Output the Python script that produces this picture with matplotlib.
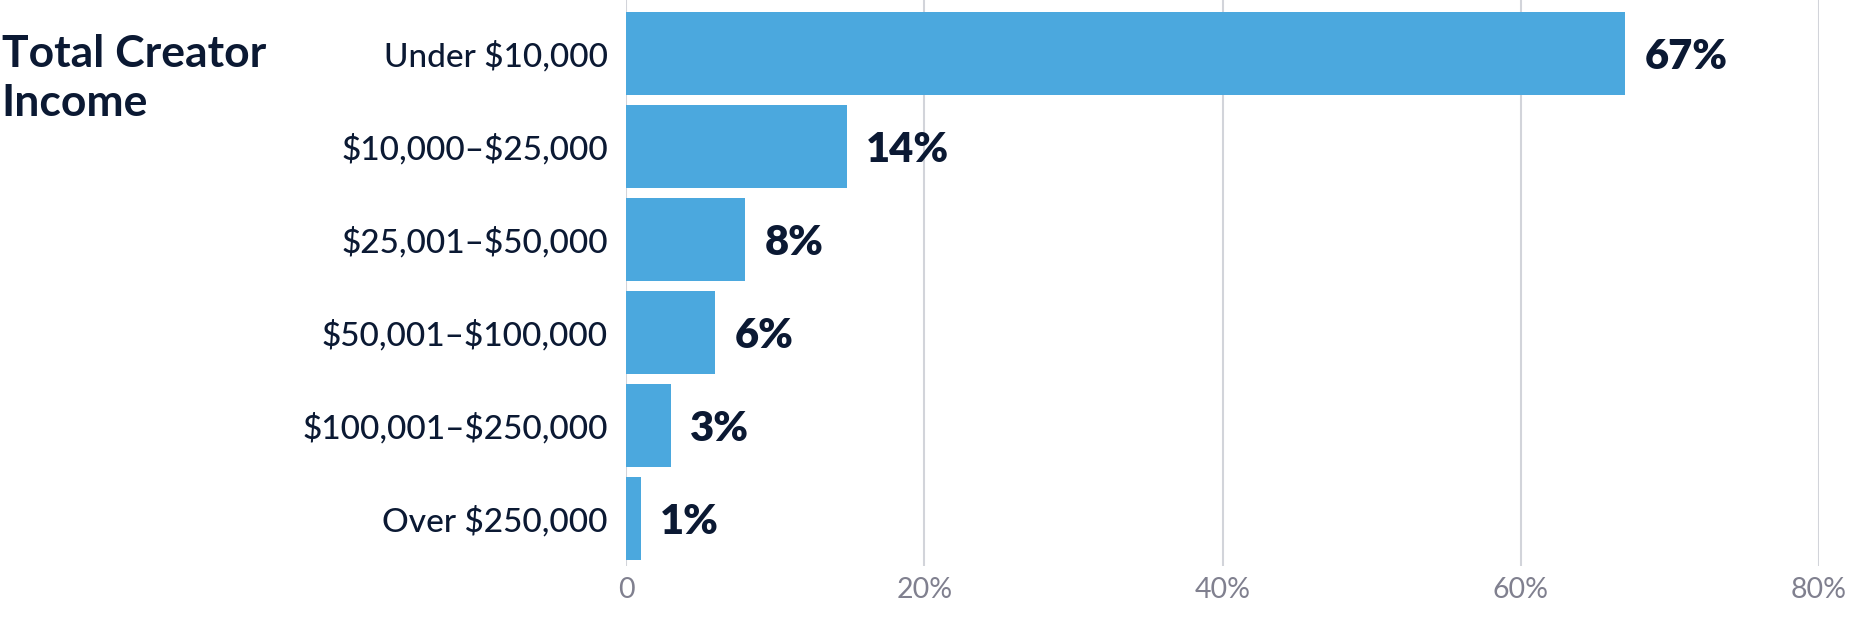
import matplotlib
matplotlib.use('Agg')
import matplotlib.pyplot as plt

# data
categories = ['Under $10,000', '$10,000\u2013$25,000', '$25,001\u2013$50,000',
              '$50,001\u2013$100,000', '$100,001\u2013$250,000', 'Over $250,000']
values = [67, 14.8, 8, 6, 3, 1]
value_labels = ['67%', '14%', '8%', '6%', '3%', '1%']
ticks = [0, 20, 40, 60, 80]
tick_labels = ['0', '20%', '40%', '60%', '80%']

BLUE = '#4BA8DE'
NAVY = '#0B1933'
GREY = '#80808F'
GRID = '#D2D4DA'

plt.rcParams['font.family'] = ['Lato', 'DejaVu Sans']
plt.rcParams['text.parse_math'] = False

fig = plt.figure(figsize=(18.57, 6.19), dpi=100)
ax = fig.add_axes([626 / 1857, 1 - 566 / 619, (1819 - 626) / 1857, 566 / 619])

y = list(range(len(categories)))
ax.barh(y, values, height=0.89, color=BLUE, zorder=2)

for i, (v, lab) in enumerate(zip(values, value_labels)):
    ax.annotate(lab, xy=(v, i), xytext=(14, 0), textcoords='offset points',
                ha='left', va='center_baseline', fontsize=30, fontweight='heavy',
                color=NAVY)

ax.set_xlim(0, 80)
ax.set_ylim(5.51, -0.575)
ax.set_xticks(ticks)
ax.set_xticklabels(tick_labels)
ax.set_yticks(y)
ax.set_yticklabels(categories, fontweight='medium')

ax.grid(axis='x', color=GRID, linewidth=1.5, zorder=0)
ax.grid(axis='y', visible=False)
for s in ax.spines.values():
    s.set_visible(False)
ax.tick_params(axis='x', length=0, pad=8, labelsize=20.5, labelcolor=GREY)
ax.tick_params(axis='y', length=0, pad=13, labelsize=24, labelcolor=NAVY)

fig.text(0.001, 1 - 78.5 / 619, 'Total Creator\nIncome', ha='left', va='center',
         fontsize=32, fontweight='bold', color=NAVY, linespacing=1.25)

fig.savefig('out.png', dpi=100)
